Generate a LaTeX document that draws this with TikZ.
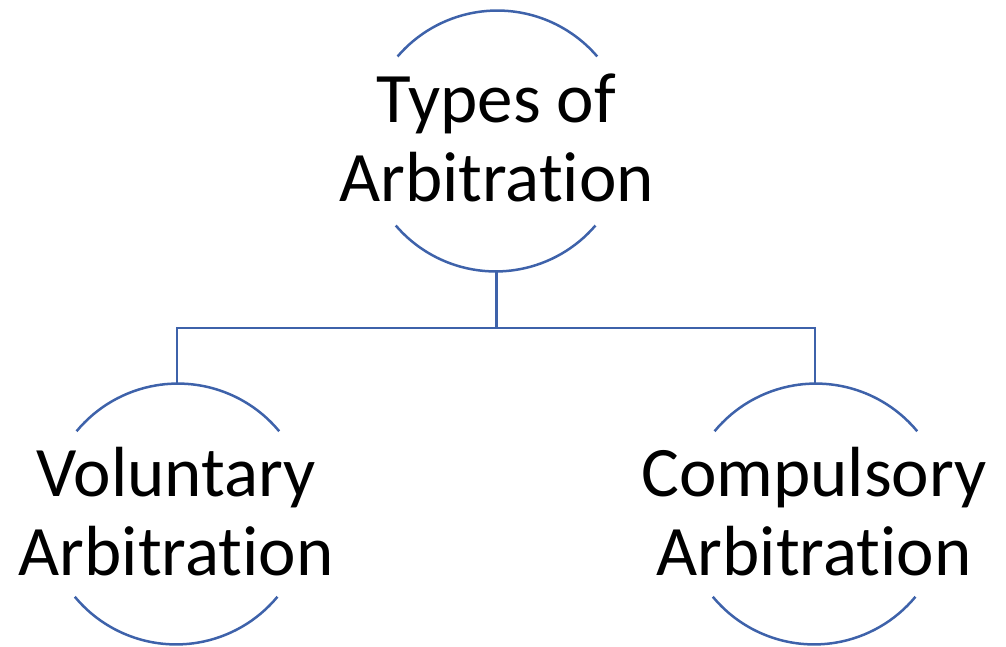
\documentclass[tikz,border=0pt]{standalone}
\usepackage{fontspec}
\setmainfont{Carlito}[Ligatures=NoCommon]
\definecolor{linkblue}{RGB}{62,98,170}
\tikzset{
  ring/.style={circle, draw=none, minimum size=263pt, inner sep=0pt, outer sep=0pt},
  arcline/.style={draw=linkblue, line width=2.5pt},
  label/.style={font=\fontsize{71}{79}\selectfont, align=center, anchor=base, inner sep=0pt},
}
\begin{document}
\begin{tikzpicture}[x=1pt, y=1pt]
  \useasboundingbox (0,0) rectangle (1006,646);

  % circle outlines (only top and bottom arcs are drawn; \a is the cut angle)
  \node[ring] (top)   at (496.5,505) {};
  \node[ring] (left)  at (177,132) {};
  \node[ring] (right) at (815,132) {};
  \foreach \c/\a in {top/40.6,left/39.6,right/39.6}{
    \draw[arcline] (\c.\a) arc[start angle=\a, end angle={180-\a}, radius=131.5pt];
    \draw[arcline] (\c.{180+\a}) arc[start angle={180+\a}, end angle={360-\a}, radius=131.5pt];
  }

  % labels (anchored on the baseline of the last line)
  \node[label] (ttop)   at (496.5,444.5) {Types of\\Arbitration};
  \node[label] (tleft)  at (176,71) {Voluntary\\Arbitration};
  \node[label] (tright) at (814,71) {Compulsory\\Arbitration};

  % hierarchy connectors
  \draw[arcline] (top.south) -- ++(0,-55.5) -| (left.north);
  \draw[arcline] (top.south) ++(0,-55.5) -| (right.north);
\end{tikzpicture}
\end{document}
